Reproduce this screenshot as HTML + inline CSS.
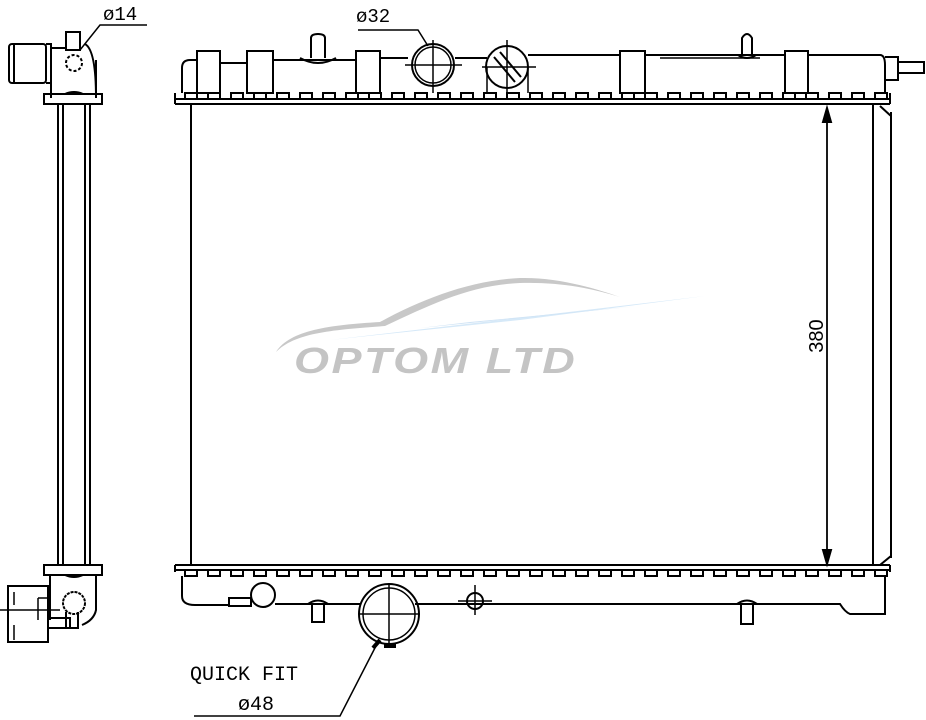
<!DOCTYPE html>
<html><head><meta charset="utf-8"><style>
html,body{margin:0;padding:0;background:#fff;width:926px;height:720px;overflow:hidden}
svg{display:block}
text{font-family:"Liberation Mono","DejaVu Sans Mono",monospace}
</style></head><body>
<svg width="926" height="720" viewBox="0 0 926 720" xmlns="http://www.w3.org/2000/svg">
<defs>
<pattern id="tt" x="180" y="0" width="23" height="720" patternUnits="userSpaceOnUse">
<path d="M0 99 H5 V93 H17 V99 H23" fill="none" stroke="#000" stroke-width="2"/>
</pattern>
<pattern id="tb" x="180" y="0" width="23" height="720" patternUnits="userSpaceOnUse">
<path d="M0 570 H5 V576 H17 V570 H23" fill="none" stroke="#000" stroke-width="2"/>
</pattern>
</defs>
<g fill="none" stroke="#000" stroke-width="2">
<!-- watermark -->
<g stroke="none">
<path d="M276 352 C290 330 330 325 380 322 C420 300 470 280 520 278 C560 277 600 290 620 297 C590 288 560 282 520 283 C470 285 430 305 385 326 C330 330 295 333 276 352Z" fill="#c8c8c8"/>
<path d="M330 340 L705 296 L520 320 Z" fill="#d6e9f8"/>
<path d="M420 328 L640 306 L470 322Z" fill="#cfe3f5"/>
</g>
<text transform="translate(294 373) scale(1.25 1)" x="0" y="0" style="font-family:'Liberation Sans',sans-serif;font-style:italic;font-weight:bold;font-size:36px;letter-spacing:2px" fill="#c4c4c4" stroke="none">OPTOM LTD</text>

<!-- top tank -->
<rect x="175" y="91" width="715" height="10" fill="url(#tt)" stroke="none"/>
<path d="M175 99 H890 M175 104 H890 M175 93 V104 M890 93 V104"/>
<path d="M182 93 V68 Q182 60 190 60 H197 M220 63 H247 M273 60 H356 M380 58 H408 M455 58 H487 M528 55 H620 M645 55 H785 M808 55 H880 Q885 55 885 65 V93"/>
<rect x="197" y="51" width="23" height="42"/>
<rect x="247" y="51" width="26" height="42"/>
<rect x="356" y="51" width="24" height="42"/>
<rect x="620" y="51" width="25" height="42"/>
<rect x="785" y="51" width="23" height="42"/>
<path d="M300 58 Q318 68 336 58 M311 58 V38 Q311 34 318 34 Q325 34 325 38 V58"/>
<path d="M738 55 Q747 61 756 55 M742 55 V38 Q747 30 752 38 V55"/>
<path d="M660 58 H760" stroke-width="1.5"/>
<path d="M885 57 H898 V80 H885 M898 62 H924 V73 H898"/>
<circle cx="433" cy="65" r="21"/><circle cx="433" cy="65" r="18" stroke-width="1.5"/>
<path d="M433 40 V93 M405 65 H462" stroke-width="1.5"/>
<circle cx="507" cy="67" r="21"/>
<path d="M487 67 V93 M528 67 V93 M507 40 V93 M482 67 H536" stroke-width="1.5"/>
<path d="M494 57 L515 82 M500 52 L521 77" stroke-width="2"/>
<path d="M358 30 H418 L428 46" stroke-width="1.5"/>
<text x="356" y="22" font-size="19" fill="#000" stroke="none">ø32</text>

<!-- core -->
<path d="M191 104 V565 M873 104 V565 M891 112 V558 M880 106 L891 116 M880 565 L891 556"/>
<path d="M827 110 V562" stroke-width="1.8"/>
<path d="M823 122 L827 108 L831 122Z M823 550 L827 564 L831 550Z" fill="#000"/>
<text transform="translate(823 336) rotate(-90)" text-anchor="middle" style="font-family:'Liberation Sans',sans-serif;font-size:20px" fill="#000" stroke="none">380</text>

<!-- bottom tank -->
<rect x="175" y="568" width="715" height="10" fill="url(#tb)" stroke="none"/>
<path d="M175 565 H890 M175 570 H890 M175 565 V572 M890 565 V572"/>
<path d="M182 576 V596 Q182 605 195 605 H230 M275 604 H360 M415 604 H840 Q845 612 850 614 H885 V577"/>
<rect x="229" y="598" width="22" height="8"/>
<circle cx="263" cy="595" r="12"/>
<path d="M308 604 Q318 597 328 604 M312 604 V622 H324 V604"/>
<path d="M737 604 Q747 597 757 604 M741 604 V624 H753 V604"/>
<circle cx="389" cy="614" r="30"/><circle cx="389" cy="614" r="26" stroke-width="1.5"/>
<path d="M389 584 V645 M359 614 H420" stroke-width="1.5"/>
<path d="M384 646 H396" stroke-width="4"/>
<circle cx="475" cy="601" r="8"/>
<path d="M475 585 V615 M458 601 H492" stroke-width="1.5"/>
<path d="M194 716 H340 L378 642" stroke-width="1.5"/>
<path d="M373 648 L380 640" stroke-width="4"/>
<text x="190" y="680" font-size="20" fill="#000" stroke="none">QUICK FIT</text>
<text x="238" y="710" font-size="20" fill="#000" stroke="none">ø48</text>

<!-- side view -->
<path d="M58 104 V565 M63 104 V565 M85 104 V565 M90 104 V565"/>
<rect x="9" y="44" width="37" height="39" rx="3"/>
<path d="M14 44 V83 M46 44 H51 V83 H46 M51 48 V98 M51 48 H66 M96 60 V98 Q96 50 85 44"/>
<rect x="66" y="32" width="14" height="18"/>
<circle cx="74" cy="63" r="8" stroke-dasharray="3 2"/>
<path d="M44 94 H102 V104 H44Z M65 94 Q74 90 83 94"/>
<path d="M80 50 L100 25 H147" stroke-width="1.5"/>
<text x="103" y="20" font-size="19" fill="#000" stroke="none">ø14</text>
<path d="M44 565 H102 V575 H44Z M65 575 Q74 579 83 575"/>
<path d="M50 575 V620 M96 575 V610 Q94 620 82 625"/>
<rect x="8" y="586" width="40" height="56"/>
<path d="M14 592 V605 M14 625 V640 M38 598 H50 M38 598 V620 M0 610 H60" stroke-width="1.5"/>
<circle cx="74" cy="603" r="11" stroke-dasharray="3 1"/>
<path d="M48 618 H70 V628 H48 M66 612 V628 H78 V612"/>
</g>
</svg>
</body></html>
